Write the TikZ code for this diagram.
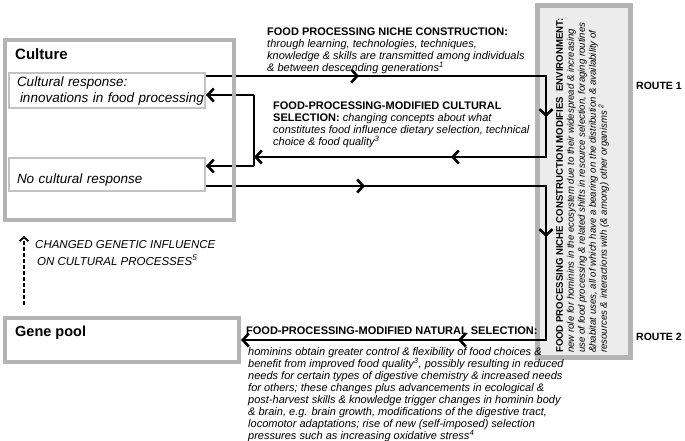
\documentclass[tikz,border=0pt]{standalone}
\usepackage{fontspec}
\setmainfont{Liberation Sans}
\usetikzlibrary{arrows.meta,decorations.markings}

\definecolor{boxgray}{RGB}{180,180,180}
\definecolor{lightgray}{RGB}{195,195,195}
\definecolor{envfill}{RGB}{236,236,236}

\tikzset{
  chev/.tip={Straight Barb[length=6pt,width=13pt,line width=2.6pt]},
  flow/.style={line width=1.2pt,black},
  midtips/.style n args={3}{postaction={decorate},decoration={markings,
      mark=at position #1 with {\arrow{chev}},
      mark=at position #2 with {\arrow{chev}},
      mark=at position #3 with {\arrow{chev}}}},
  bigbox/.style={draw=boxgray,line width=4pt,inner sep=0,anchor=north west},
  smallbox/.style={draw=lightgray,line width=2pt,anchor=north west,inner xsep=8pt,
      align=left,font=\fontsize{13.5}{16}\selectfont\itshape},
  txt/.style={inner sep=0,anchor=north west,align=left},
}

\begin{document}
\begin{tikzpicture}[x=1pt,y=-1pt]
    \useasboundingbox (0,0) rectangle (685,440);

    % environment box
    \node[draw=boxgray,fill=envfill,line width=5pt,inner sep=0,anchor=north west,
      minimum width=93pt,minimum height=352pt] (env) at (535,3) {};
    \node[txt,rotate=90,font=\fontsize{9.6}{11}\selectfont] (envlbl) at (556,353)
      {\textbf{FOOD PROCESSING NICHE CONSTRUCTION MODIFIES\ \ ENVIRONMENT:}\\
       \textit{new role for hominins in the ecosystem due to their widespread \& increasing}\\
       \textit{use of food processing \& related shifts in resource selection, foraging routines}\\
       \textit{\&habitat uses, all of which have a bearing on the distribution \& availability of}\\
       \textit{resources \& interactions with (\& among) other organisms \textsuperscript{2}}};

    % culture boxes
    \node[smallbox,minimum width=196pt,minimum height=34pt,text width=180pt] (crbox) at (8,72)
      {Cultural response:\\\mbox{\hspace*{3pt}innovations in food processing}};
    \node[smallbox,minimum width=196pt,minimum height=33pt,text width=180pt] (ncbox) at (8,157)
      {\raisebox{-8.5pt}[0pt][0pt]{No cultural response}};

    % gene pool
    \node[bigbox,minimum width=234pt,minimum height=44pt] (genepool) at (3,316) {};
    \node[anchor=west,inner sep=0,font=\fontsize{14.5}{16}\selectfont\bfseries] (genelbl) at (15,333) {Gene pool};

    % route 1
    \coordinate (ne) at (546,76);
    \coordinate (e1) at (546,157);
    \coordinate (bt) at (254,95);
    \coordinate (bb) at (254,166);
    \coordinate (bm) at (254,157);
    \draw[flow,-chev,midtips={153pt}{381pt}{516pt}] (crbox.east |- ne) -- (ne) -- (e1) -- (bm);
    \draw[flow] (bt) -- (bb);
    \draw[flow,-chev] (bt) -- (crbox.east |- bt);
    \draw[flow,-chev] (bb) -- (ncbox.east |- bb);

    % route 2
    \coordinate (se) at (546,186);
    \coordinate (e2) at (546,340);
    \draw[flow,-chev,midtips={159pt}{391pt}{582pt}] (ncbox.east |- se) -- (se) -- (e2) -- (genepool.east |- e2);

    % culture
    \node[bigbox,minimum width=229pt,minimum height=180pt] (culture) at (3,38) {};
    \node[anchor=west,inner sep=0,font=\fontsize{15}{17}\selectfont\bfseries] (culturelbl) at (15,54) {Culture};

    % genetic influence
    \coordinate (dashx) at (24,0);
    \draw[line width=2pt,dash pattern=on 4pt off 2pt,
      -{Straight Barb[length=4pt,width=9pt,line width=1.8pt]},shorten <=11pt,shorten >=14pt]
      (genepool.north -| dashx) -- (culture.south -| dashx);
    \node[txt,font=\fontsize{11.5}{17}\selectfont\itshape] (genlbl) at (35,240)
      {CHANGED GENETIC INFLUENCE\\\hspace*{2pt}ON CULTURAL PROCESSES\textsuperscript{5}};

    % labels
    \node[txt,font=\fontsize{11}{12}\selectfont] (nichelbl) at (267,28)
      {\textbf{FOOD PROCESSING NICHE CONSTRUCTION:}\\
       \textit{through learning, technologies, techniques,}\\
       \textit{knowledge \& skills are transmitted among individuals}\\
       \textit{\& between descending generations\textsuperscript{1}}};
    \node[txt,font=\fontsize{11}{12}\selectfont] (cullbl) at (273,102)
      {\textbf{FOOD-PROCESSING-MODIFIED CULTURAL}\\
       \textbf{SELECTION:} \textit{changing concepts about what}\\
       \textit{constitutes food influence dietary selection, technical}\\
       \textit{choice \& food quality\textsuperscript{3}}};
    \node[txt,font=\fontsize{11}{12}\selectfont\bfseries] (natlbl) at (246,327)
      {FOOD-PROCESSING-MODIFIED NATURAL SELECTION:};
    \node[txt,font=\fontsize{11}{12}\selectfont\itshape] (natbody) at (248,347)
      {hominins obtain greater control \& flexibility of food choices \&\\
       benefit from improved food quality\textsuperscript{3}, possibly resulting in reduced\\
       needs for certain types of digestive chemistry \& increased needs\\
       for others; these changes plus advancements in ecological \&\\
       post-harvest skills \& knowledge trigger changes in hominin body\\
       \& brain, e.g. brain growth, modifications of the digestive tract,\\
       locomotor adaptations; rise of new (self-imposed) selection\\
       pressures such as increasing oxidative stress\textsuperscript{4}};

    \node[anchor=west,inner sep=0,font=\fontsize{10.5}{12}\selectfont\bfseries] (route1) at (636,86) {ROUTE 1};
    \node[anchor=west,inner sep=0,font=\fontsize{10.5}{12}\selectfont\bfseries] (route2) at (636,337) {ROUTE 2};
\end{tikzpicture}
\end{document}
